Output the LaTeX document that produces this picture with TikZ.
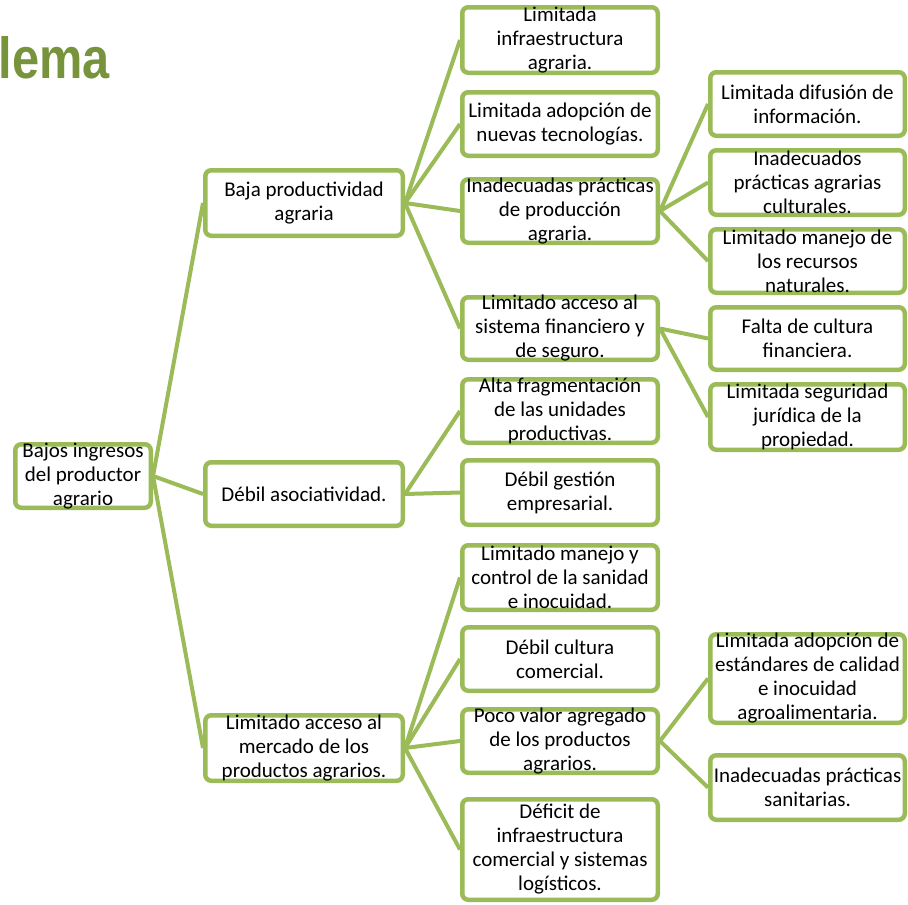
\documentclass[tikz,border=0pt]{standalone}
\usepackage{fontspec}
\usepackage{graphicx}
\setmainfont{Carlito}
\newfontfamily\titlefont{Liberation Sans}
\usetikzlibrary{backgrounds}
\definecolor{boxgreen}{HTML}{9BBB59}
\definecolor{titlegreen}{HTML}{77933C}
\tikzset{
  boxshape/.style={draw=boxgreen, line width=4.5pt, rounded corners=6pt, fill=white, inner sep=0pt},
  boxtext/.style={align=center, inner sep=0pt, font=\fontsize{21}{24}\selectfont, text=black},
  link/.style={draw=boxgreen, line width=4pt}
}
\newcommand{\mybox}[6]{%
  \node[boxshape, minimum width=#4pt-4.5pt, minimum height=#5pt-4.5pt] (#1) at (#2,#3) {};
  \node[boxtext] (#1t) at (#1.center) {#6};
}
\begin{document}
\begin{tikzpicture}[x=1pt,y=-1pt]
\useasboundingbox (0,0) rectangle (908,905);
\node[anchor=base west, inner sep=0pt, text=titlegreen] (title) at (-1.5,78)
  {\scalebox{0.84}[1]{\titlefont\bfseries\fontsize{58}{58}\selectfont lema}};
% root
\mybox{root}{83}{476}{140}{68}{Bajos ingresos\\del productor\\agrario}
% level 1
\mybox{baja}{304}{203}{202}{70}{Baja productividad\\agraria}
\mybox{debil}{304}{494}{202}{68}{Débil asociatividad.}
\mybox{merc}{304}{748}{202}{70}{Limitado acceso al\\mercado de los\\productos agrarios.}
% level 2
\mybox{infra}{560}{40}{200}{70}{Limitada\\infraestructura\\agraria.}
\mybox{tecn}{560}{124}{200}{68}{Limitada adopción de\\nuevas tecnologías.}
\mybox{pract}{560}{211}{200}{68}{Inadecuadas prácticas\\de producción\\agraria.}
\mybox{fin}{560}{328.5}{200}{67}{Limitado acceso al\\sistema financiero y\\de seguro.}
\mybox{frag}{560}{411}{200}{68}{Alta fragmentación\\de las unidades\\productivas.}
\mybox{gest}{560}{492.5}{200}{69}{Débil gestión\\empresarial.}
\mybox{sanid}{560}{577.5}{200}{69}{Limitado manejo y\\control de la sanidad\\e inocuidad.}
\mybox{comer}{560}{659}{200}{68}{Débil cultura\\comercial.}
\mybox{valor}{560}{741}{200}{68}{Poco valor agregado\\de los productos\\agrarios.}
\mybox{defic}{560}{849.5}{200}{105}{Déficit de\\infraestructura\\comercial y sistemas\\logísticos.}
% level 3
\mybox{difus}{807.5}{104}{199}{68}{Limitada difusión de\\información.}
\mybox{cultu}{807.5}{182.5}{199}{69}{Inadecuados\\prácticas agrarias\\culturales.}
\mybox{recur}{807.5}{261}{199}{68}{Limitado manejo de\\los recursos\\naturales.}
\mybox{cfin}{807.5}{338.5}{199}{67}{Falta de cultura\\financiera.}
\mybox{jurid}{807.5}{417}{199}{70}{Limitada seguridad\\jurídica de la\\propiedad.}
\mybox{estand}{807.5}{678.5}{199}{93}{Limitada adopción de\\estándares de calidad\\e inocuidad\\agroalimentaria.}
\mybox{sanit}{807.5}{787.5}{199}{69}{Inadecuadas prácticas\\sanitarias.}
\begin{pgfonlayer}{background}
\foreach \a/\b in {root/baja, root/debil, root/merc,
  baja/infra, baja/tecn, baja/pract, baja/fin,
  debil/frag, debil/gest,
  merc/sanid, merc/comer, merc/valor, merc/defic,
  pract/difus, pract/cultu, pract/recur,
  fin/cfin, fin/jurid,
  valor/estand, valor/sanit}
  \draw[link] (\a.east) -- (\b.west);
\end{pgfonlayer}
\end{tikzpicture}
\end{document}
